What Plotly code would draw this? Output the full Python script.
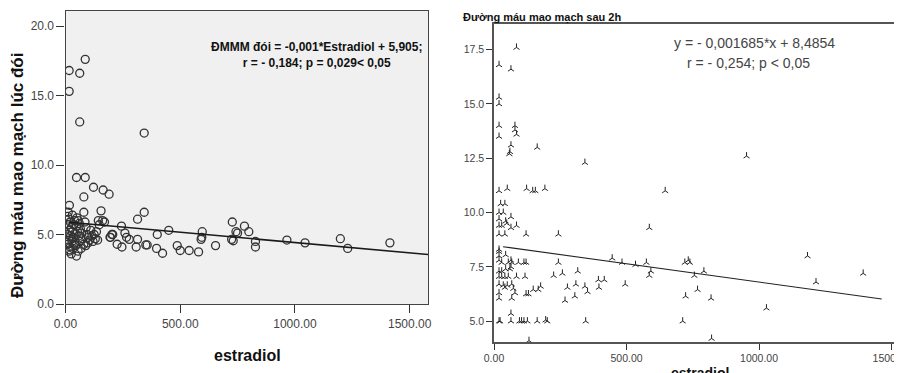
import plotly.graph_objects as go

# ---------------- Left panel data (fasting capillary glucose vs estradiol) ----------------
left_estradiol = [86, 16, 62, 16, 62, 343, 48, 86, 122, 164, 190, 80, 17, 80, 155, 343, 314,
                  727, 780, 799, 743, 750, 450, 596, 244, 170, 147, 259, 196, 206, 278, 266, 314,
                  591, 594, 400, 724, 731, 828, 828, 965, 1044, 1198, 1230, 1414, 225, 246, 308,
                  350, 356, 397, 423, 487, 500, 539, 580, 654, 162, 143, 202, 194,
                  10, 15, 20, 12, 25, 18, 30, 8, 22, 35, 14, 28, 40, 10, 20, 32, 15, 25, 48,
                  50, 55, 60, 48, 65, 52, 70, 58, 75, 62, 80, 45, 68, 55, 85, 90, 95, 100, 105,
                  110, 115, 120, 125, 130, 135, 140, 88, 98, 12, 30, 40, 35, 42, 28, 38, 18]
left_glucose = [17.6, 16.8, 16.6, 15.3, 13.1, 12.3, 9.1, 9.1, 8.4, 8.2, 7.9, 7.7, 7.1, 6.6, 6.7, 6.6, 6.1,
                5.9, 5.6, 5.2, 5.2, 5.1, 5.3, 5.2, 5.6, 5.9, 5.7, 5.1, 4.8, 5.0, 4.65, 4.8, 4.65,
                4.65, 4.8, 5.0, 4.65, 4.55, 4.5, 4.1, 4.6, 4.4, 4.7, 4.0, 4.4, 4.3, 4.1, 4.1,
                4.25, 4.25, 4.0, 3.65, 4.2, 3.85, 3.85, 3.75, 4.2, 6.0, 6.0, 5.0, 4.8,
                6.3, 6.1, 5.9, 5.7, 5.5, 5.3, 5.2, 5.0, 4.9, 4.8, 4.6, 4.5, 4.4, 4.3, 4.1, 4.0, 3.8, 3.6, 3.45,
                6.2, 6.0, 5.8, 5.6, 5.4, 5.2, 5.1, 4.9, 4.7, 4.5, 4.3, 4.2, 4.0, 3.8, 5.9, 5.5, 5.0, 4.8, 4.6,
                5.3, 4.9, 4.5, 5.0, 4.7, 5.2, 4.6, 4.2, 4.4, 6.6, 6.4, 6.0, 5.7, 5.1, 4.7, 4.3, 3.9]
left_fit = {"intercept": 5.905, "slope": -0.00148}
left_fit_x = [15, 1580]

# ---------------- Right panel data (2h capillary glucose vs estradiol) ----------------
right_estradiol = [85, 19, 64, 19, 19, 19, 79, 79, 85, 19, 64, 60, 58, 163, 343, 953,
                   19, 50, 123, 146, 156, 192, 646, 25, 41, 19, 35, 64, 19, 19, 29, 44, 48, 64, 85,
                   19, 41, 121, 243, 586, 19, 19, 19, 44, 19, 29, 54, 64, 67, 92, 113, 121, 243,
                   446, 483, 534, 575, 720, 733, 739, 1183, 19, 29, 44, 60, 64, 316, 592, 586, 792,
                   756, 1393, 19, 29, 41, 54, 85, 117, 225, 258, 19, 35, 50, 67, 73, 41, 19, 79,
                   121, 130, 148, 167, 176, 277, 309, 343, 353, 394, 416, 396, 495, 19, 67, 268,
                   305, 723, 768, 819, 1215, 1028, 64, 19, 23, 64, 96, 104, 113, 126, 163, 195, 201,
                   346, 712, 132, 821]
right_glucose = [17.6, 16.8, 16.6, 15.3, 15.0, 14.0, 14.0, 13.8, 13.6, 13.5, 13.1, 12.8, 12.7, 13.0, 12.3, 12.6,
                 11.0, 11.1, 11.1, 11.0, 11.0, 11.1, 11.0, 10.4, 10.4, 10.0, 10.0, 9.8, 9.7, 9.4, 9.4, 9.6, 9.5, 9.3, 9.4,
                 9.0, 9.0, 9.0, 9.0, 9.3, 8.3, 8.2, 8.0, 8.05, 7.8, 7.7, 7.7, 7.8, 7.7, 7.7, 7.7, 7.7, 7.7,
                 7.9, 7.7, 7.6, 7.7, 7.7, 7.8, 7.7, 8.0, 7.3, 7.3, 7.4, 7.4, 7.5, 7.3, 7.3, 7.1, 7.3,
                 7.1, 7.2, 7.05, 7.05, 7.05, 7.05, 7.05, 7.05, 7.1, 7.2, 6.7, 6.65, 6.65, 6.7, 6.5, 6.55, 6.3, 6.3,
                 6.25, 6.25, 6.45, 6.45, 6.6, 6.55, 6.7, 6.6, 6.35, 6.9, 6.9, 6.55, 6.7, 6.05, 6.05, 5.95,
                 6.15, 6.15, 6.45, 6.05, 6.8, 5.6, 5.35, 5.0, 5.0, 5.0, 5.0, 5.0, 5.0, 5.0, 5.0, 5.05, 5.0,
                 5.0, 5.0, 4.1, 4.2]
right_fit = {"intercept": 8.4854, "slope": -0.001685}
right_fit_x = [34, 1463]

left_ticks_x = [0, 500, 1000, 1500]
left_ticks_y = [0, 5, 10, 15, 20]
right_ticks_x = [0, 500, 1000, 1500]
right_ticks_y = [5, 7.5, 10, 12.5, 15, 17.5]

# the page body has an 8px margin, so the figure is offset by 8px in the window
OFF = 8
W, H = 902 - OFF, 373 - OFF


def px_x(p):
    return (p - OFF) / W


def px_y(p):
    return 1 - (p - OFF) / H


fig = go.Figure()

fig.add_trace(go.Scatter(
    x=left_estradiol, y=left_glucose, mode="markers", xaxis="x", yaxis="y",
    marker=dict(symbol="circle-open", size=8, color="#333333", line=dict(width=1.3, color="#333333")),
    showlegend=False, hoverinfo="x+y"))
fig.add_trace(go.Scatter(
    x=left_fit_x, y=[left_fit["intercept"] + left_fit["slope"] * v for v in left_fit_x],
    mode="lines", xaxis="x", yaxis="y", line=dict(color="#1a1a1a", width=1.6),
    showlegend=False, hoverinfo="skip"))

fig.add_trace(go.Scatter(
    x=right_estradiol, y=right_glucose, mode="markers", xaxis="x2", yaxis="y2",
    marker=dict(symbol="y-up-open", size=5, color="#222222", line=dict(width=1, color="#222222")),
    showlegend=False, hoverinfo="x+y"))
fig.add_trace(go.Scatter(
    x=right_fit_x, y=[right_fit["intercept"] + right_fit["slope"] * v for v in right_fit_x],
    mode="lines", xaxis="x2", yaxis="y2", line=dict(color="#222222", width=1.1),
    showlegend=False, hoverinfo="skip"))

FONT = "Arial, Liberation Sans, sans-serif"
tick_font_l = dict(family=FONT, size=12, color="#444444")
tick_font_r = dict(family=FONT, size=10.5, color="#444444")

common = dict(ticks="outside", tickcolor="#333333", showgrid=False, zeroline=False,
              automargin=False, ticklabeloverflow="allow", showline=True)

fig.update_layout(
    template="none",
    width=W, height=H,
    margin=dict(l=0, r=0, t=0, b=0, autoexpand=False),
    paper_bgcolor="white",
    plot_bgcolor="white",
    shapes=[dict(type="rect", xref="x domain", yref="y domain", x0=0, x1=1, y0=0, y1=1,
                 fillcolor="#f0f0f0", line=dict(width=0), layer="below")],
    xaxis=dict(domain=[px_x(65.5), px_x(428)], range=[0, 1580], tickvals=left_ticks_x,
               tickformat=".2f", ticklen=8, linecolor="#444444", linewidth=1.2, mirror=True,
               tickfont=tick_font_l, anchor="y", **common),
    yaxis=dict(domain=[px_y(304), px_y(11)], range=[0, 21.08], tickvals=left_ticks_y,
               tickformat=".1f", ticklen=8, linecolor="#444444", linewidth=1.2, mirror=True,
               tickfont=tick_font_l, anchor="x", **common),
    xaxis2=dict(domain=[px_x(494), 1.0], range=[0, 1539.5], tickvals=right_ticks_x,
                tickformat=".2f", ticklen=6, linecolor="#555555", linewidth=1.5, mirror=True,
                tickfont=tick_font_r, anchor="y2", **common),
    yaxis2=dict(domain=[px_y(342), px_y(24)], range=[4.04, 18.68], tickvals=right_ticks_y,
                tickformat=".1f", ticklen=6, linecolor="#555555", linewidth=1.5, mirror=False,
                tickfont=tick_font_r, anchor="x2", **common),
)

annotations = [
    dict(text="<b>ĐMMM đói = -0,001*Estradiol + 5,905;</b><br><b>r = - 0,184; p = 0,029< 0,05</b>",
         x=px_x(316), y=px_y(55), xref="paper", yref="paper", xanchor="center", yanchor="middle",
         showarrow=False, align="center",
         font=dict(family=FONT, size=12, color="#111111")),
    dict(text="<b>Đường máu mao mạch lúc đói</b>", textangle=-90,
         x=px_x(17), y=px_y(176), xref="paper", yref="paper", xanchor="center", yanchor="middle",
         showarrow=False, font=dict(family=FONT, size=17, color="#111111")),
    dict(text="<b>estradiol</b>",
         x=px_x(247), y=px_y(355), xref="paper", yref="paper", xanchor="center", yanchor="middle",
         showarrow=False, font=dict(family=FONT, size=16, color="#111111")),
    dict(text="<b>Đường máu mao mạch sau 2h</b>",
         x=px_x(461), y=px_y(17), xref="paper", yref="paper", xanchor="left", yanchor="middle",
         showarrow=False, font=dict(family=FONT, size=11, color="#111111")),
    dict(text="y = - 0,001685*x + 8,4854",
         x=px_x(754), y=px_y(43), xref="paper", yref="paper", xanchor="center", yanchor="middle",
         showarrow=False, font=dict(family=FONT, size=14, color="#444444")),
    dict(text="r = - 0,254; p < 0,05",
         x=px_x(748), y=px_y(63), xref="paper", yref="paper", xanchor="center", yanchor="middle",
         showarrow=False, font=dict(family=FONT, size=14, color="#444444")),
    dict(text="<b>estradiol</b>",
         x=px_x(700), y=px_y(373), xref="paper", yref="paper", xanchor="center", yanchor="middle",
         showarrow=False, font=dict(family=FONT, size=14, color="#111111")),
]
fig.update_layout(annotations=annotations)

fig.write_html("out.html")
